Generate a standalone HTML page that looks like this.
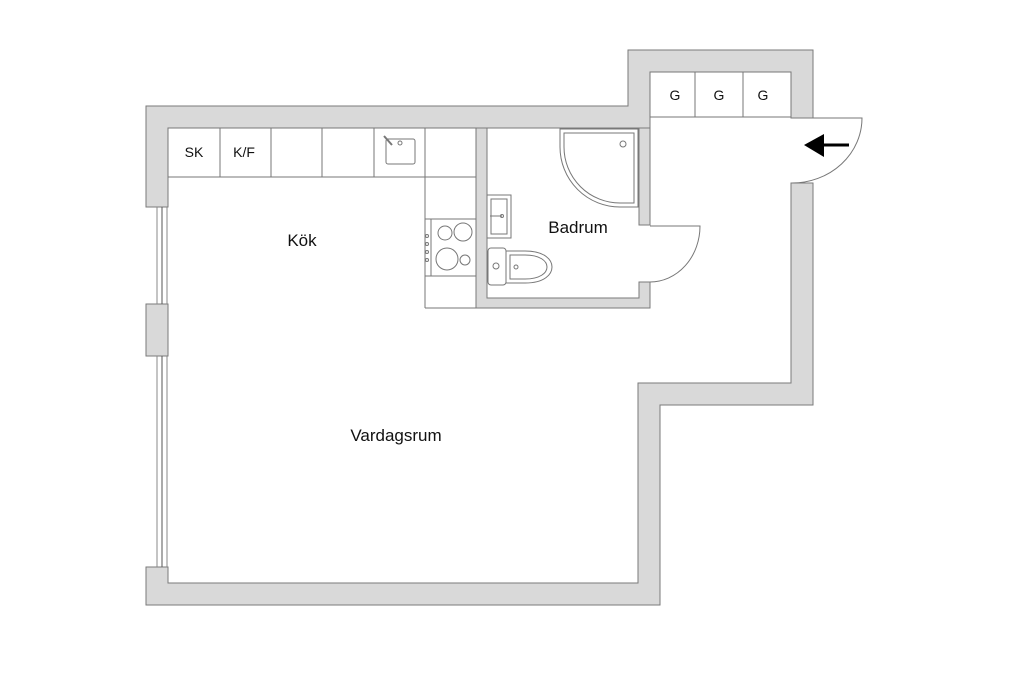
<!DOCTYPE html>
<html><head><style>html,body{margin:0;padding:0;background:#fff}svg{display:block}</style></head><body>
<svg width="1024" height="683" viewBox="0 0 1024 683" xmlns="http://www.w3.org/2000/svg" font-family="Liberation Sans, sans-serif">
<g fill="#d9d9d9" stroke="#7a7a7a" stroke-width="1">
<!-- top wall and left top -->
<path d="M146,106 H628 V50 H813 V118 H791 V72 H650 V128 H168 V207 H146 Z"/>
<!-- right wall lower and step -->
<path d="M791,183 H813 V405 H660 V605 H146 V567 H168 V583 H638 V383 H791 Z"/>
<!-- pier -->
<rect x="146" y="304" width="22" height="52"/>
<!-- bathroom walls -->
<path d="M476,128 H487 V298 H639 V282 H650 V308 H476 Z"/>
<path d="M639,128 H650 V225 H639 Z"/>
</g>
<!-- windows -->
<g stroke="#888" stroke-width="1">
<line x1="157" y1="207" x2="157" y2="304"/><line x1="167" y1="207" x2="167" y2="304"/>
<line x1="157" y1="356" x2="157" y2="567"/><line x1="167" y1="356" x2="167" y2="567"/>
<line x1="162" y1="207" x2="162" y2="304" stroke="#555"/><line x1="162" y1="356" x2="162" y2="567" stroke="#555"/>
</g>
<g fill="none" stroke="#777" stroke-width="1">
<!-- kitchen counters -->
<rect x="168" y="128" width="308" height="49"/>
<line x1="220" y1="128" x2="220" y2="177"/><line x1="271" y1="128" x2="271" y2="177"/>
<line x1="322" y1="128" x2="322" y2="177"/><line x1="374" y1="128" x2="374" y2="177"/>
<line x1="425" y1="128" x2="425" y2="308"/>
<line x1="425" y1="308" x2="476" y2="308"/>
<rect x="425" y="219" width="51" height="57"/><line x1="431" y1="219" x2="431" y2="276"/>
<circle cx="445" cy="233" r="7"/><circle cx="463" cy="232" r="9"/>
<circle cx="447" cy="259" r="11"/><circle cx="465" cy="260" r="5"/>
<circle cx="427" cy="236" r="1.5"/><circle cx="427" cy="244" r="1.5"/><circle cx="427" cy="252" r="1.5"/><circle cx="427" cy="260" r="1.5"/>
<!-- kitchen sink -->
<rect x="386" y="139" width="29" height="25" rx="2"/><circle cx="400" cy="143" r="2"/>
<line x1="384" y1="136" x2="392" y2="145" stroke-width="2"/>
<!-- closet -->
<rect x="650" y="72" width="141" height="45"/>
<line x1="695" y1="72" x2="695" y2="117"/><line x1="743" y1="72" x2="743" y2="117"/>
<!-- shower -->
<path d="M560,129 H638 V207 H620 A60,60 0 0 1 560,147 Z"/>
<path d="M564,133 H634 V203 H620 A56,56 0 0 1 564,147 Z"/>
<circle cx="623" cy="144" r="3"/>
<!-- bath sink -->
<rect x="487" y="195" width="24" height="43"/><rect x="491" y="199" width="16" height="35"/>
<line x1="490" y1="216" x2="502" y2="216"/><circle cx="502" cy="216" r="1.5"/>
<!-- toilet -->
<rect x="488" y="248" width="18" height="37" rx="3"/><circle cx="496" cy="266" r="3"/>
<path d="M506,251 H525 C545,251 552,260 552,267 C552,274 545,283 525,283 H506 Z"/>
<path d="M510,255 H525 C540,255 547,261 547,267 C547,273 540,279 525,279 H510 Z"/>
<circle cx="516" cy="267" r="2"/>
<!-- doors -->
<path d="M650,226 H700 A50,56 0 0 1 650,282"/>
<path d="M813,118 H862 A70,65 0 0 1 792,183"/>
</g>
<!-- arrow -->
<line x1="818" y1="145" x2="849" y2="145" stroke="#000" stroke-width="3"/>
<polygon points="804,145 824,134 824,157" fill="#000"/>
<g fill="#111" font-size="14" text-anchor="middle">
<text x="194" y="157">SK</text><text x="244" y="157">K/F</text>
<text x="675" y="100">G</text><text x="719" y="100">G</text><text x="763" y="100">G</text>
</g>
<g fill="#111" font-size="17" text-anchor="middle">
<text x="302" y="246">Kök</text>
<text x="578" y="233">Badrum</text>
<text x="396" y="441">Vardagsrum</text>
</g>
</svg>
</body></html>
